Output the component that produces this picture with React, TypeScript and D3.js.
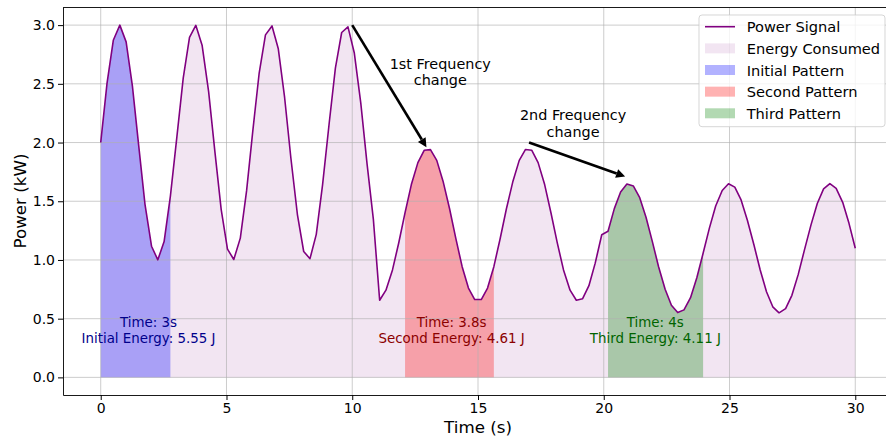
import React, { useEffect, useRef } from 'react';
import * as d3 from 'd3';

// sample times (s)
const times = [
  0.0, 0.25, 0.5, 0.76, 1.01, 1.26, 1.51, 1.76, 2.02, 2.27, 2.52, 2.77,
  3.03, 3.28, 3.53, 3.78, 4.03, 4.29, 4.54, 4.79, 5.04, 5.29, 5.55, 5.8,
  6.05, 6.3, 6.55, 6.81, 7.06, 7.31, 7.56, 7.82, 8.07, 8.32, 8.57, 8.82,
  9.08, 9.33, 9.58, 9.83, 10.08, 10.34, 10.59, 10.84, 11.09, 11.34, 11.6, 11.85,
  12.1, 12.35, 12.61, 12.86, 13.11, 13.36, 13.61, 13.87, 14.12, 14.37, 14.62, 14.87,
  15.13, 15.38, 15.63, 15.88, 16.13, 16.39, 16.64, 16.89, 17.14, 17.39, 17.65, 17.9,
  18.15, 18.4, 18.66, 18.91, 19.16, 19.41, 19.66, 19.92, 20.17, 20.42, 20.67, 20.92,
  21.18, 21.43, 21.68, 21.93, 22.18, 22.44, 22.69, 22.94, 23.19, 23.45, 23.7, 23.95,
  24.2, 24.45, 24.71, 24.96, 25.21, 25.46, 25.71, 25.97, 26.22, 26.47, 26.72, 26.97,
  27.23, 27.48, 27.73, 27.98, 28.24, 28.49, 28.74, 28.99, 29.24, 29.5, 29.75, 30.0,
];

// power (kW)
const power = [
  2.0, 2.504, 2.871, 3.0, 2.857, 2.481, 1.974, 1.474, 1.117, 1.001, 1.157, 1.543,
  2.053, 2.549, 2.895, 2.998, 2.829, 2.434, 1.921, 1.429, 1.093, 1.004, 1.186, 1.59,
  2.106, 2.592, 2.917, 2.993, 2.798, 2.386, 1.868, 1.387, 1.072, 1.011, 1.218, 1.639,
  2.158, 2.634, 2.937, 2.985, 2.765, 2.336, 1.816, 1.346, 0.657, 0.743, 0.915, 1.147,
  1.403, 1.642, 1.829, 1.934, 1.94, 1.848, 1.671, 1.436, 1.181, 0.943, 0.761, 0.663,
  0.663, 0.761, 0.943, 1.181, 1.436, 1.671, 1.848, 1.941, 1.934, 1.829, 1.642, 1.402,
  1.147, 0.915, 0.743, 0.657, 0.67, 0.781, 0.973, 1.215, 1.244, 1.437, 1.579, 1.646,
  1.629, 1.53, 1.364, 1.158, 0.942, 0.751, 0.614, 0.552, 0.575, 0.679, 0.848, 1.057,
  1.271, 1.46, 1.592, 1.649, 1.62, 1.511, 1.338, 1.129, 0.915, 0.729, 0.601, 0.55,
  0.585, 0.699, 0.875, 1.086, 1.299, 1.481, 1.605, 1.65, 1.61, 1.491, 1.312, 1.1,
];

const patternNames = ['Initial Pattern', 'Second Pattern', 'Third Pattern'];
const patternStart = [0, 12.1, 20.17];
const patternEnd = [2.77, 15.63, 23.95];
const patternColors = ['#0000ff', '#ff0000', '#008000'];
const patternTextColors = ['#00008b', '#8b0000', '#006400'];
const patternTimeLabels = ['Time: 3s', 'Time: 3.8s', 'Time: 4s'];
const patternEnergyLabels = ['Initial Energy: 5.55 J', 'Second Energy: 4.61 J', 'Third Energy: 4.11 J'];
const patternLabelX = [1.9, 13.95, 22.05];
const patternLabelY = 0.4;

const xTicks = [0, 5, 10, 15, 20, 25, 30];
const yTicks = [0, 0.5, 1, 1.5, 2, 2.5, 3];

const annotations = [
  { lines: ['1st Frequency', 'change'], tx: 13.5, ty: 2.6, from: [10, 3.0], to: [12.95, 1.96] },
  { lines: ['2nd Frequency', 'change'], tx: 18.78, ty: 2.165, from: [17.03, 2.0], to: [20.85, 1.71] },
];

const W = 886;
const H = 438;
const FONT = 'DejaVu Sans, sans-serif';

const App: React.FC = () => {
  const xAxisRef = useRef<SVGGElement | null>(null);
  const yAxisRef = useRef<SVGGElement | null>(null);

  const x = d3.scaleLinear().domain([-1.5, 31.5]).range([63, 893]);
  const y = d3.scaleLinear().domain([-0.15, 3.15]).range([395, 7.5]);

  const pts = times.map((t, i) => ({ t, v: power[i] }));

  const area = d3
    .area<{ t: number; v: number }>()
    .x((d) => x(d.t))
    .y0(y(0))
    .y1((d) => y(d.v));
  const line = d3
    .line<{ t: number; v: number }>()
    .x((d) => x(d.t))
    .y((d) => y(d.v));

  useEffect(() => {
    if (xAxisRef.current) {
      const g = d3
        .select(xAxisRef.current)
        .call(d3.axisBottom(x).tickValues(xTicks).tickSize(5).tickPadding(3).tickSizeOuter(0).tickFormat(d3.format('d')));
      g.attr('font-size', 14).attr('font-family', FONT);
      g.selectAll('.tick text').attr('fill', '#000');
      g.select('.domain').attr('stroke', '#000').attr('stroke-width', 0.9);
    }
    if (yAxisRef.current) {
      const g = d3
        .select(yAxisRef.current)
        .call(d3.axisLeft(y).tickValues(yTicks).tickSize(5).tickPadding(3).tickSizeOuter(0).tickFormat(d3.format('.1f')));
      g.attr('font-size', 14).attr('font-family', FONT);
      g.selectAll('.tick text').attr('fill', '#000');
      g.select('.domain').attr('stroke', '#000').attr('stroke-width', 0.9);
    }
  }, []);

  const arrowHead = (from: number[], to: number[]) => {
    const x1 = x(from[0]);
    const y1 = y(from[1]);
    const x2 = x(to[0]);
    const y2 = y(to[1]);
    const ang = Math.atan2(y2 - y1, x2 - x1);
    const len = 9;
    const half = 4.5;
    const bx = x2 - len * Math.cos(ang);
    const by = y2 - len * Math.sin(ang);
    const p1 = [bx + half * Math.sin(ang), by - half * Math.cos(ang)];
    const p2 = [bx - half * Math.sin(ang), by + half * Math.cos(ang)];
    return { x1, y1, bx, by, head: `M${x2},${y2}L${p1[0]},${p1[1]}L${p2[0]},${p2[1]}Z` };
  };

  const legendItems = ['Power Signal', 'Energy Consumed', ...patternNames];

  return (
    <svg
      width={W}
      height={H}
      style={{ position: 'absolute', left: 0, top: 0, background: '#fff' }}
      fontFamily={FONT}
    >
      <defs>
        <clipPath id="plot">
          <rect x={63} y={7.5} width={830} height={387.5} />
        </clipPath>
      </defs>

      <g clipPath="url(#plot)">
        {/* energy consumed */}
        <path d={area(pts) || ''} fill="#800080" fillOpacity={0.1} />
        {/* patterns */}
        {patternNames.map((name, k) => (
          <path
            key={name}
            d={area(pts.filter((p) => p.t >= patternStart[k] && p.t <= patternEnd[k])) || ''}
            fill={patternColors[k]}
            fillOpacity={0.3}
          />
        ))}
        {/* grid */}
        {xTicks.map((t) => (
          <line key={'gx' + t} x1={x(t)} x2={x(t)} y1={7.5} y2={395} stroke="#b0b0b0" strokeOpacity={0.7} strokeWidth={0.9} />
        ))}
        {yTicks.map((v) => (
          <line key={'gy' + v} x1={63} x2={893} y1={y(v)} y2={y(v)} stroke="#b0b0b0" strokeOpacity={0.7} strokeWidth={0.9} />
        ))}
        <path d={line(pts) || ''} fill="none" stroke="#800080" strokeWidth={1.6} strokeLinejoin="round" />
      </g>

      {/* pattern labels */}
      {patternNames.map((name, k) => (
        <text key={'lbl' + name} fontSize={13.4} fill={patternTextColors[k]} textAnchor="middle">
          <tspan x={x(patternLabelX[k])} y={y(patternLabelY) - 7.6} dominantBaseline="central">
            {patternTimeLabels[k]}
          </tspan>
          <tspan x={x(patternLabelX[k])} y={y(patternLabelY) + 7.6} dominantBaseline="central">
            {patternEnergyLabels[k]}
          </tspan>
        </text>
      ))}

      {/* annotations */}
      {annotations.map((a, k) => {
        const h = arrowHead(a.from, a.to);
        return (
          <g key={'ann' + k}>
            <line x1={h.x1} y1={h.y1} x2={h.bx} y2={h.by} stroke="#000" strokeWidth={2.6} />
            <path d={h.head} fill="#000" />
            {a.lines.map((s, j) => (
              <text
                key={s}
                x={x(a.tx)}
                y={y(a.ty) + (j - (a.lines.length - 1) / 2) * 16.7}
                fontSize={14.4}
                textAnchor="middle"
                dominantBaseline="central"
                fill="#000"
              >
                {s}
              </text>
            ))}
          </g>
        );
      })}

      {/* axes */}
      <g ref={xAxisRef} transform={`translate(0,${395})`} />
      <g ref={yAxisRef} transform={`translate(${63},0)`} />
      <line x1={63} x2={893} y1={7.5} y2={7.5} stroke="#000" strokeWidth={0.9} />

      <text x={478} y={426.7} fontSize={16.7} textAnchor="middle" dominantBaseline="central" fill="#000">
        Time (s)
      </text>
      <text
        transform={`translate(19.5,${201}) rotate(-90)`}
        fontSize={16.7}
        textAnchor="middle"
        dominantBaseline="central"
        fill="#000"
      >
        Power (kW)
      </text>

      {/* legend */}
      <g>
        <rect x={699} y={15} width={186} height={111.7} rx={3} fill="#fff" fillOpacity={0.8} stroke="#cccccc" strokeOpacity={0.8} />
        {legendItems.map((label, i) => {
          const cy = 26.7 + i * 21.65;
          return (
            <g key={'lg' + label}>
              {i === 0 ? (
                <line x1={705} x2={735} y1={cy} y2={cy} stroke="#800080" strokeWidth={1.6} />
              ) : (
                <rect
                  x={705}
                  y={cy - 5}
                  width={30}
                  height={10}
                  fill={i === 1 ? '#800080' : patternColors[i - 2]}
                  fillOpacity={i === 1 ? 0.1 : 0.3}
                />
              )}
              <text x={746.7} y={cy} fontSize={14.6} dominantBaseline="central" fill="#000">
                {label}
              </text>
            </g>
          );
        })}
      </g>
    </svg>
  );
};

export default App;
